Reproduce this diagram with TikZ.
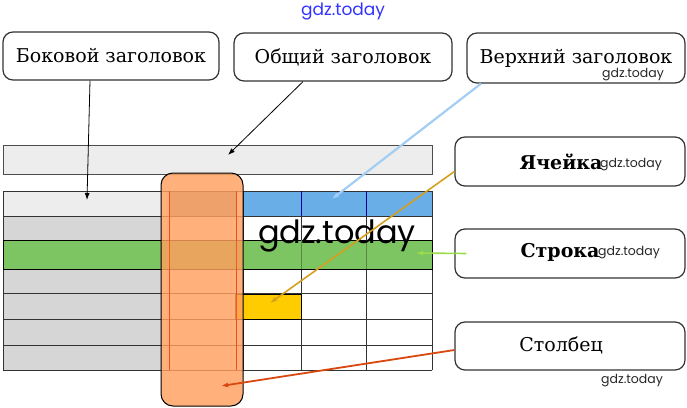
\documentclass[tikz,border=0pt]{standalone}
\usepackage{fontspec}
\setmainfont{DejaVu Serif}
\newfontfamily\wmfont{Poppins}
\usetikzlibrary{arrows.meta}
\definecolor{cblue}{HTML}{6AAEE8}
\definecolor{cgreen}{HTML}{7DC462}
\definecolor{cyellow}{HTML}{FFCC00}
\definecolor{corange}{HTML}{FF9F5E}
\definecolor{cgray}{HTML}{D6D6D6}
\definecolor{cpale}{HTML}{EDEDED}
\definecolor{lblue}{HTML}{A3CDF2}
\definecolor{lgold}{HTML}{D4A020}
\definecolor{lgreen}{HTML}{9ADD48}
\definecolor{lred}{HTML}{D9480F}
\tikzset{
  box/.style={draw=black!80, line width=1.2pt, rounded corners=10pt, fill=white,
    minimum height=48pt, inner sep=0pt, font=\fontsize{19}{21}\selectfont},
  lbl/.style={inner sep=0pt, font=\fontsize{19}{21}\selectfont},
  wm/.style={inner sep=0pt, text=black!85, font=\wmfont\fontsize{12.5}{13}\selectfont},
  gridline/.style={draw=black!80, line width=0.8pt},
  pointer/.style={-{Latex[length=7pt,width=5pt]}, line width=0.8pt},
}
\begin{document}
\begin{tikzpicture}[x=1pt,y=-1pt]
\useasboundingbox (0,0) rectangle (687,407);

\node[wm, text=blue!80, font=\wmfont\fontsize{17}{18}\selectfont] (w1) at (343,12) {gdz.today};

\node[box, minimum width=216pt] (v1) at (111,56) {Боковой заголовок};
\node[box, minimum width=218pt] (v2) at (343,57) {Общий заголовок};
\node[box, minimum width=218pt, minimum height=50pt] (v3) at (576,58) {Верхний заголовок};
\node[wm, anchor=west] (w2) at (602,75) {gdz.today};

\node[box, minimum width=230pt, minimum height=49pt] (v4) at (570,161.5) {};
\node[box, minimum width=230pt, minimum height=49pt] (v5) at (570,253.5) {};
\node[box, minimum width=230pt, minimum height=48pt] (v6) at (570,346) {};
\node[lbl, font=\fontsize{19}{21}\selectfont\bfseries] (t4) at (561,162) {Ячейка};
\node[lbl, font=\fontsize{19}{21}\selectfont\bfseries] (t5) at (560,252) {Строка};
\node[lbl] (t6) at (561,345) {Столбец};
\node[wm, anchor=west] (w3) at (600,165) {gdz.today};
\node[wm, anchor=west] (w4) at (598,253) {gdz.today};
\node[wm, anchor=west] (w5) at (601,381) {gdz.today};



\draw[fill=cpale, draw=black!70, line width=0.8pt] (3,145) rectangle (432,174);

\fill[white] (3,191) rectangle (432,370);
\fill[cpale] (3,191) rectangle (161,216);
\fill[cgray] (3,216) rectangle (161,370);
\fill[cgray!80!black] (169,191) rectangle (236,216);
\fill[cblue] (243,191) rectangle (432,216);
\foreach \y in {191,216,240,269,293,319,345,370}
  \draw[gridline] (3,\y) -- (432,\y);
\foreach \x in {3,169,236,243,301,366,432}
  \draw[gridline] (\x,191) -- (\x,370);
\draw[blue!60!black, line width=0.8pt] (301,191) -- (301,216) (366,191) -- (366,216);
\draw[fill=cgreen, draw=black, line width=1pt] (3,240) rectangle (432,269);
\draw[cgreen!70!black, line width=0.8pt] (301,240) -- (301,269) (366,240) -- (366,269);
\draw[fill=cyellow, draw=black, line width=1pt] (235,294) rectangle (301,319);

\draw[fill=corange, fill opacity=0.82, draw=black, line width=1pt, rounded corners=12pt]
  (161,173) rectangle (243,406);
\draw[red!70!orange, opacity=0.6, line width=0.8pt] (169,191) -- (169,370) (236,191) -- (236,370);

\node[wm, text=black, font=\wmfont\fontsize{32}{34}\selectfont] (w6) at (337,236) {gdz.today};



\coordinate (c1) at (87,200);
\coordinate (c2) at (228,155);
\coordinate (c3) at (332,199);
\coordinate (c4) at (270,303);
\coordinate (c5) at (416,253);
\coordinate (c6) at (221,386);
\draw[pointer] ([xshift=-21pt]v1.south) -- (c1);
\draw[pointer] ([xshift=-40pt]v2.south) -- (c2);
\draw[pointer, lblue, line width=2.2pt] ([xshift=-95pt]v3.south) -- (c3);
\draw[pointer, lgold, line width=1.6pt] ([yshift=-10pt]v4.west) -- (c4);
\draw[pointer, lgreen, line width=1.6pt] ([xshift=12pt]v5.west) -- (c5);
\draw[pointer, lred, line width=1.8pt] ([yshift=-4pt]v6.west) -- (c6);
\end{tikzpicture}
\end{document}
